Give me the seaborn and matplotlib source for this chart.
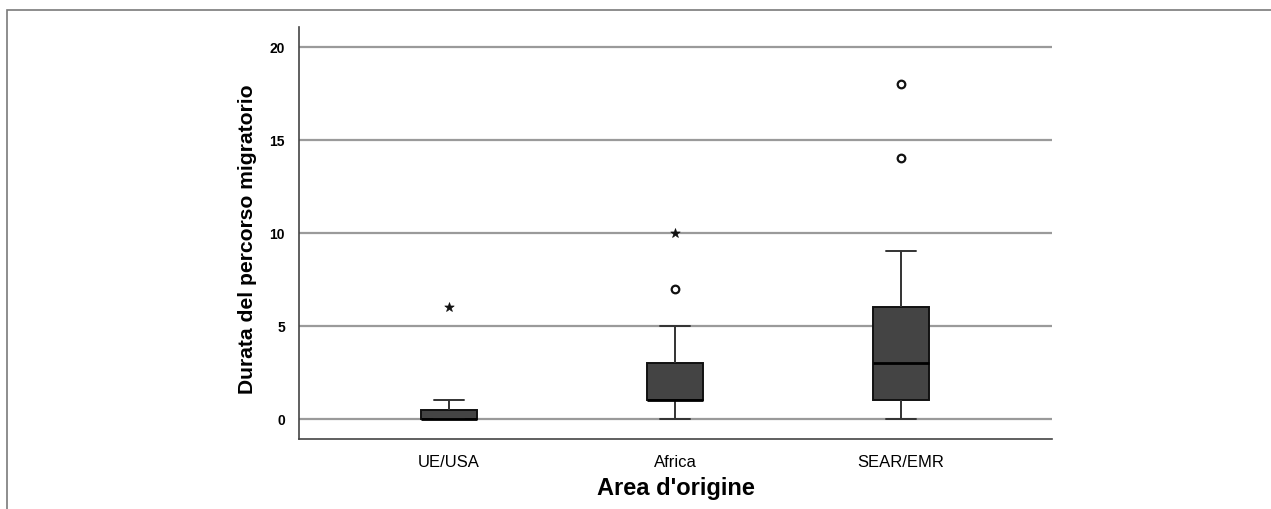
"""
Boxplot: durata del percorso migratorio per area d'origine (SPSS style).
"""

import numpy as np
import pandas as pd
import matplotlib
matplotlib.use('Agg')
import matplotlib.pyplot as plt
import seaborn as sns

# Data (years)
areas = ['UE/USA', 'Africa', 'SEAR/EMR']
ue_usa = [0, 0, 0, 0, 0, 0, 0, 0, 1, 1, 6]
africa = [0, 0, 1, 1, 1, 1, 1, 2, 3, 3, 5, 7, 10]
sear_emr = [0, 1, 1, 1, 2, 3, 3, 4, 6, 6, 9, 14, 18]

y_ticks = [0, 5, 10, 15, 20]

df = pd.DataFrame({
    'Area': ['UE/USA'] * len(ue_usa) + ['Africa'] * len(africa) + ['SEAR/EMR'] * len(sear_emr),
    'Durata': ue_usa + africa + sear_emr,
})

# Outliers SPSS style: circle = mild (>1.5 IQR), star = extreme (>3 IQR)
rows = []
for area, grp in df.groupby('Area', sort=False):
    q1, q3 = np.percentile(grp['Durata'], [25, 75])
    iqr = q3 - q1
    for v in grp['Durata']:
        if v > q3 + 3 * iqr or v < q1 - 3 * iqr:
            rows.append((area, v, 'extreme'))
        elif v > q3 + 1.5 * iqr or v < q1 - 1.5 * iqr:
            rows.append((area, v, 'mild'))
out_df = pd.DataFrame(rows, columns=['Area', 'Durata', 'Tipo'])

sns.set_theme(style='white', rc={'text.color': 'black', 'axes.labelcolor': 'black',
                                 'xtick.color': 'black', 'ytick.color': 'black'})
plt.rcParams['font.family'] = ['Liberation Sans', 'DejaVu Sans']

fig = plt.figure(figsize=(12.71, 5.10), dpi=100)
ax = fig.add_axes([0.2352, 0.1373, 0.5925, 0.8078])

# horizontal grid lines
for t in y_ticks:
    ax.axhline(t, color='#9a9a9a', linewidth=1.6, zorder=0)

sns.boxplot(
    data=df, x='Area', y='Durata', order=areas, ax=ax,
    width=0.25, showfliers=False, whis=1.5,
    color='#454545', saturation=1,
    boxprops=dict(facecolor='#444444', edgecolor='#111111', linewidth=1.4),
    whiskerprops=dict(color='#333333', linewidth=1.4),
    capprops=dict(color='#333333', linewidth=1.4),
    medianprops=dict(color='#000000', linewidth=2.0),
    capwidths=0.13,
    zorder=3,
)

mild = out_df[out_df['Tipo'] == 'mild']
extreme = out_df[out_df['Tipo'] == 'extreme']
sns.scatterplot(data=mild, x='Area', y='Durata', ax=ax, marker='o', s=30,
                facecolor='white', edgecolor='#111111', linewidth=1.6, zorder=4)
sns.scatterplot(data=extreme, x='Area', y='Durata', ax=ax, marker='*', s=50,
                color='#111111', edgecolor='#111111', linewidth=0.5, zorder=4)

ax.set_xlim(-0.664, 2.668)
ax.set_ylim(-1.08, 21.07)
ax.set_yticks(y_ticks)
ax.set_yticklabels([str(t) for t in y_ticks], fontsize=10, fontweight='bold')
ax.tick_params(axis='x', labelsize=12, length=0, pad=11)
ax.tick_params(axis='y', length=0, pad=10)

ax.set_xlabel("Area d'origine", fontsize=17, fontweight='bold', labelpad=5)
ax.set_ylabel('Durata del percorso migratorio', fontsize=15.2, fontweight='bold')
ax.yaxis.set_label_coords(-0.056, 0.487)

for side in ['top', 'right']:
    ax.spines[side].set_visible(False)
for side in ['left', 'bottom']:
    ax.spines[side].set_color('#444444')
    ax.spines[side].set_linewidth(1.2)

# outer frame like the SPSS output viewer
frame = plt.Rectangle((7 / 1271, -0.1), 1.2, 1 - 11 / 510 + 0.1, transform=fig.transFigure,
                      fill=False, edgecolor='#7a7a7a', linewidth=1.2)
fig.patches.append(frame)

plt.savefig('out.png', dpi=100)
